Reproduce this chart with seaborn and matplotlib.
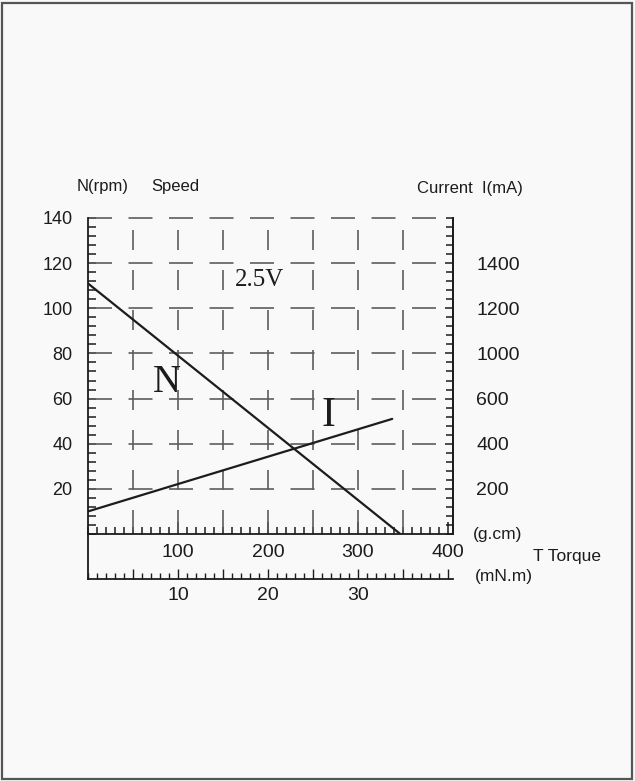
import numpy as np
import pandas as pd
import matplotlib
matplotlib.use("Agg")
import matplotlib.pyplot as plt
import matplotlib.patches as mpatches
from matplotlib.ticker import MultipleLocator, FixedLocator, FixedFormatter
import seaborn as sns

# -----------------------------
# DATA
# -----------------------------
speed_torque = [0, 347]          # g.cm
speed_rpm = [111, 0]             # rpm
current_torque = [0, 338]        # g.cm
current_ma = [100, 510]          # mA

left_ticks = [20, 40, 60, 80, 100, 120, 140]
right_ticks = [200, 400, 600, 800, 1000, 1200]
right_labels = ["200", "400", "600", "1000", "1200", "1400"]   # as printed
gcm_ticks = [100, 200, 300, 400]
mnm_ticks = [5, 10, 15, 20, 25, 30, 35, 40]
mnm_labels = ["", "10", "", "20", "", "30", "", ""]

df_n = pd.DataFrame({"torque": speed_torque, "value": speed_rpm})
df_i = pd.DataFrame({"torque": current_torque, "value": current_ma})

# -----------------------------
# STYLE
# -----------------------------
sns.set_style("white")
plt.rcParams["font.family"] = ["Liberation Sans", "DejaVu Sans"]
plt.rcParams["lines.scale_dashes"] = False
ink = "#1c1c1c"
grid_c = "#5e5e5e"
bg = "#f9f9f9"

W, H = 635, 781
fig = plt.figure(figsize=(W / 100, H / 100), dpi=100, facecolor=bg)


def fx(px):
    return px / W


def fy(py):
    return 1 - py / H


x0, x1, ytop, ybot = 88, 452.5, 218, 534
ax = fig.add_axes([fx(x0), fy(ybot), (x1 - x0) / W, (ybot - ytop) / H])
ax.set_facecolor("none")
ax.set_xlim(0, 405)
ax.set_ylim(0, 140)

# dashed grid (pixel lengths -> points)
pt = 0.72
h_on, h_off = 24 * pt, 16.5 * pt
v_on, v_off = 20 * pt, 20 * pt
for v in left_ticks:
    ax.axhline(v, color=grid_c, lw=1.2, clip_on=False,
               linestyle=(0, (h_on, h_off)), zorder=1)
for v in range(50, 400, 50):
    ax.axvline(v, color=grid_c, lw=1.2,
               linestyle=(v_on + v_off - 4 * pt, (v_on, v_off)), zorder=1)

# speed line
sns.lineplot(data=df_n, x="torque", y="value", ax=ax, color=ink, lw=1.6, zorder=3)

# current on the right axis
ax_r = ax.twinx()
ax_r.set_ylim(0, 1400)
sns.lineplot(data=df_i, x="torque", y="value", ax=ax_r, color=ink, lw=1.6, zorder=3)
ax_r.set_xlim(0, 405)

ax.spines["top"].set_visible(False)
ax_r.spines["top"].set_visible(False)
for s in ["left", "bottom", "right"]:
    ax.spines[s].set_color(ink)
    ax.spines[s].set_linewidth(1.3)
ax_r.spines["right"].set_color(ink)
ax_r.spines["right"].set_linewidth(1.3)
ax_r.spines["left"].set_visible(False)
ax_r.spines["bottom"].set_visible(False)

ax.set_xlabel("")
ax.set_ylabel("")
ax_r.set_xlabel("")
ax_r.set_ylabel("")

# left axis
ax.yaxis.set_major_locator(FixedLocator(left_ticks))
ax.yaxis.set_minor_locator(MultipleLocator(4))
ax.tick_params(axis="y", which="both", direction="in", left=True, right=False,
               color=ink, width=1.1, labelsize=13, labelcolor=ink, pad=11)
ax.tick_params(axis="y", which="both", length=6)

# bottom axis (g.cm)
ax.xaxis.set_major_locator(FixedLocator(gcm_ticks))
ax.xaxis.set_minor_locator(MultipleLocator(10))
ax.tick_params(axis="x", which="both", direction="in", bottom=True, top=False,
               color=ink, width=1.1, labelsize=14, labelcolor=ink, pad=7)
ax.tick_params(axis="x", which="major", length=9)
ax.tick_params(axis="x", which="minor", length=5)

# right axis
ax_r.yaxis.set_major_locator(FixedLocator(right_ticks))
ax_r.yaxis.set_major_formatter(FixedFormatter(right_labels))
ax_r.yaxis.set_minor_locator(MultipleLocator(40))
ax_r.tick_params(axis="y", which="both", direction="in", right=True, left=False,
                 color=ink, width=1.1, labelsize=14, labelcolor=ink, pad=17)
ax_r.tick_params(axis="y", which="major", length=6)
ax_r.tick_params(axis="y", which="minor", length=5)
ax_r.tick_params(axis="x", which="both", bottom=False, top=False,
                 labelbottom=False)

# curve labels
serif = ["Liberation Serif", "DejaVu Serif"]
ax.text(190, 112.5, "2.5V", family=serif, fontsize=18, color=ink,
        ha="center", va="center", zorder=4,
        bbox=dict(boxstyle="square,pad=0.15", fc=bg, ec="none"))
ax.text(88, 67, "N", family=serif, fontsize=28, color=ink,
        ha="center", va="center", zorder=4)
ax.text(267, 52.5, "I", family=serif, fontsize=30, color=ink,
        ha="center", va="center", zorder=4)

# second torque scale (mN.m)
ybot2 = 579
ax2 = fig.add_axes([fx(x0), fy(ybot2), (x1 - x0) / W, (ybot2 - ybot) / H])
ax2.set_facecolor("none")
ax2.set_xlim(0, 40.5)
ax2.set_ylim(0, 1)
ax2.spines["top"].set_visible(False)
ax2.spines["right"].set_visible(False)
for s in ["left", "bottom"]:
    ax2.spines[s].set_color(ink)
    ax2.spines[s].set_linewidth(1.3)
ax2.set_yticks([])
ax2.xaxis.set_major_locator(FixedLocator(mnm_ticks))
ax2.xaxis.set_major_formatter(FixedFormatter(mnm_labels))
ax2.xaxis.set_minor_locator(MultipleLocator(1))
ax2.tick_params(axis="x", which="both", direction="in", bottom=True, top=False,
                color=ink, width=1.0, labelsize=14, labelcolor=ink, pad=6)
ax2.tick_params(axis="x", which="major", length=7)
ax2.tick_params(axis="x", which="minor", length=4)

# axis titles
fig.text(fx(77), fy(187), "N(rpm)", fontsize=12, color=ink, ha="left", va="center")
fig.text(fx(151), fy(187), "Speed", fontsize=12, color=ink, ha="left", va="center")
fig.text(fx(417), fy(189), "Current  I(mA)", fontsize=12, color=ink, ha="left", va="center")
fig.text(fx(473), fy(535), "(g.cm)", fontsize=12.5, color=ink, ha="left", va="center")
fig.text(fx(533), fy(556), "T Torque", fontsize=12.5, color=ink, ha="left", va="center")
fig.text(fx(475), fy(576), "(mN.m)", fontsize=12.5, color=ink, ha="left", va="center")

# picture frame
fig.patches.append(mpatches.Rectangle((fx(2), fy(779)), fx(630), 776 / H,
                                      transform=fig.transFigure, fill=False,
                                      edgecolor="#555555", lw=1.6))

fig.savefig("out.png", dpi=100, facecolor=bg)
